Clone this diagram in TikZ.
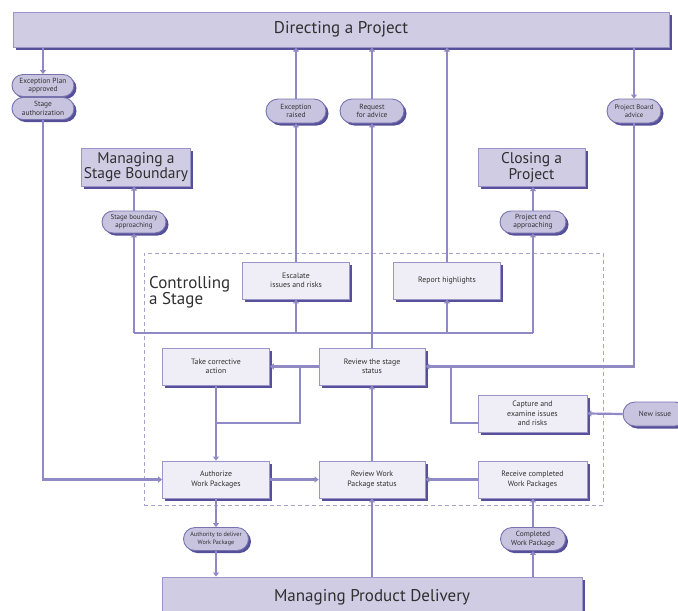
\documentclass[tikz,border=0pt]{standalone}
\usepackage{fontspec}
\setmainfont{PT Sans}
\usetikzlibrary{arrows.meta,shapes.misc,shadows}
\definecolor{bigfill}{HTML}{CFCCE4}
\definecolor{procfill}{HTML}{EFEEF6}
\definecolor{pillfill}{HTML}{C8C4E0}
\definecolor{boxedge}{HTML}{9A94C8}
\definecolor{shadowc}{HTML}{56509A}
\definecolor{linec}{HTML}{8F89C5}
\definecolor{dashc}{HTML}{A8A4D0}
\definecolor{textc}{HTML}{303030}
\begin{document}
\begin{tikzpicture}[x=1pt,y=-1pt,
  shade/.style={drop shadow={shadow xshift=2.5pt,shadow yshift=-2.5pt,fill=shadowc,opacity=1}},
  bigbox/.style={shade,rectangle,draw=boxedge,line width=1pt,fill=bigfill,text=textc,align=center,inner sep=2pt},
  procbox/.style={shade,rectangle,draw=boxedge,line width=0.8pt,fill=procfill,text=textc,align=center,
    font=\fontsize{7.8}{9.5}\selectfont,minimum width=107pt,minimum height=37pt,inner sep=1pt},
  pill/.style={shade,rounded rectangle,draw=shadowc!80,line width=0.9pt,fill=pillfill,text=textc,align=center,
    font=\fontsize{7.4}{8.3}\selectfont,minimum height=22pt,minimum width=64pt,inner xsep=1pt,inner ysep=1pt},
  stageframe/.style={draw=dashc,line width=0.9pt,dash pattern=on 4pt off 3pt,rectangle},
  link/.style={draw=linec,line width=2.2pt},
  arr/.style={link,-{Triangle[length=4pt,width=6pt]}},
]
\useasboundingbox (0,0) rectangle (678,611);

% the Controlling a Stage frame
\node[stageframe,minimum width=459pt,minimum height=252pt] (stage) at (373.5,379) {};
\node[anchor=north west,align=left,text=textc,font=\fontsize{17}{16.5}\selectfont,inner sep=0pt] (stagelbl) at (149,276) {Controlling\\a Stage};

% surrounding processes
\node[bigbox,minimum width=656pt,minimum height=35pt,font=\fontsize{17}{18}\selectfont] (dap) at (341,29.5) {Directing a Project};
\node[bigbox,minimum width=107pt,minimum height=38pt,font=\fontsize{15.5}{14}\selectfont] (msb) at (136,167) {Managing a\\Stage Boundary};
\node[bigbox,minimum width=107pt,minimum height=38pt,font=\fontsize{15.5}{14}\selectfont] (cp) at (531.5,167.5) {Closing a\\Project};
\node[bigbox,minimum width=420pt,minimum height=40pt,font=\fontsize{17}{18}\selectfont] (mpd) at (372,597) {Managing Product Delivery};

% activities within the stage
\node[procbox] (esc) at (296,280.5) {Escalate\\issues and risks};
\node[procbox] (rh) at (447,280.5) {Report highlights};
\node[procbox] (tca) at (216,366.5) {Take corrective\\action};
\node[procbox,minimum width=106pt] (rss) at (372,366.5) {Review the stage\\status};
\node[procbox,minimum width=109pt] (cei) at (532.5,413.5) {Capture and\\examine issues\\and risks};
\node[procbox] (awp) at (216,479.5) {Authorize\\Work Packages};
\node[procbox,minimum width=106pt] (rwp) at (372,479.5) {Review Work\\Package status};
\node[procbox,minimum width=109pt] (rcw) at (532.5,479.5) {Receive completed\\Work Packages};

% triggers and products
\node[pill,minimum width=64pt] (epa) at (43,85.5) {Exception Plan\\approved};
\node[pill,minimum width=64pt] (sta) at (43,108.5) {Stage\\authorization};
\node[pill,minimum width=62pt,minimum height=24pt] (exr) at (296,111) {Exception\\raised};
\node[pill,minimum width=66pt,minimum height=24pt] (rfa) at (372,111) {Request\\for advice};
\node[pill,minimum width=56pt,minimum height=24pt,font=\fontsize{6.8}{8.3}\selectfont] (pba) at (634,111) {Project Board\\advice};
\node[pill,minimum width=66pt,font=\fontsize{7}{8.3}\selectfont] (sba) at (134,222) {Stage boundary\\approaching};
\node[pill,minimum width=68pt] (pea) at (533,222) {Project end\\approaching};
\node[pill,minimum width=67pt,minimum height=23pt,font=\fontsize{6.2}{7.6}\selectfont] (ad) at (216,539) {Authority to deliver\\Work Package};
\node[pill,minimum width=67pt,minimum height=23pt] (cwp) at (533,539) {Completed\\Work Package};
\node[pill,minimum width=66pt,minimum height=24pt] (ni) at (655,414) {New issue};

% junction points
\coordinate (busL) at (134,333);
\coordinate (busR) at (533,333);
\coordinate (br) at (300,366.5);
\coordinate (brDown) at (300,423);
\coordinate (cj) at (451,366.5);

% Directing a Project links
\draw[arr] (dap.south -| epa.north) -- (epa.north);
\draw[arr] (sta.south) |- (awp.west);
\draw[arr] (esc.north) -- (exr.south);
\draw[arr] (exr.north) -- (exr.north |- dap.south);
\draw[arr] (rss.north) -- (rfa.south);
\draw[arr] (rfa.north) -- (rfa.north |- dap.south);
\draw[arr] (rh.north) -- (rh.north |- dap.south);
\draw[arr] (dap.south -| pba.north) -- (pba.north);
\draw[arr] (pba.south) |- (rss.east);

% stage status bus
\draw[link] (busL) -- (busR);
\draw[arr] (busL) -- (sba.south);
\draw[arr] (sba.north) -- (sba.north |- msb.south);
\draw[arr] (busL -| esc.south) -- (esc.south);
\draw[arr] (busL -| rh.south) -- (rh.south);
\draw[arr] (busR) -- (pea.south);
\draw[arr] (pea.north) -- (pea.north |- cp.south);

% inside the stage
\draw[arr] (rss.west) -- (tca.east);
\draw[link] (br) -- (brDown) -- (brDown -| tca.south);
\draw[arr] (tca.south) -- (awp.north);
\draw[arr] (awp.east) -- (rwp.west);
\draw[arr] (rwp.north) -- (rss.south);
\draw[arr] (rcw.west) -- (rwp.east);
\draw[link] ([yshift=-9.5pt]cei.west) -| (cj);
\draw[arr] (ni.west) -- (cei.east);

% Managing Product Delivery links
\draw[arr] (awp.south) -- (ad.north);
\draw[arr] (ad.south) -- (ad.south |- mpd.north);
\draw[arr] (mpd.north -| rwp.south) -- (rwp.south);
\draw[arr] (cwp.south |- mpd.north) -- (cwp.south);
\draw[arr] (cwp.north) -- (cwp.north |- rcw.south);
\end{tikzpicture}
\end{document}
